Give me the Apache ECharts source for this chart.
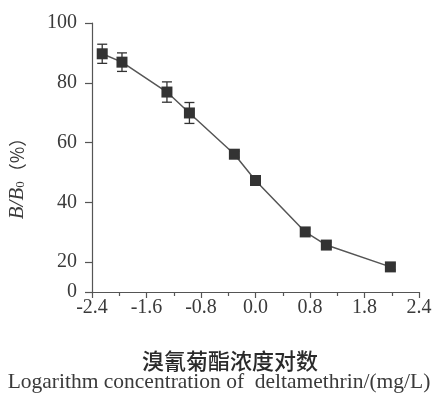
<!DOCTYPE html>
<html>
<head>
<meta charset="utf-8">
<script src="https://cdn.jsdelivr.net/npm/echarts@6/dist/echarts.min.js"></script>
<style>
html,body{margin:0;padding:0;background:#fff;}
#chart{width:438px;height:396px;}
</style>
</head>
<body>
<div id="chart"></div>
<script>
// Data
var xValues = [-2.25, -1.96, -1.30, -0.97, -0.31, 0.0, 0.73, 1.04, 1.98];
var yValues = [89.7, 86.9, 76.9, 69.9, 56.1, 47.3, 30.1, 25.7, 18.4];
var yErrors = [3.2, 3.1, 3.4, 3.5, 1.0, 1.0, 1.0, 1.0, 1.0];
var xTickLabels = ['-2.4', '-1.6', '-0.8', '0.0', '0.8', '1.8', '2.4'];
var yTickValues = [10, 20, 40, 60, 80, 100];
var yTickLabels = ['0', '20', '40', '60', '80', '100'];
var xTitleCn = '溴氰菊酯浓度对数';
var xTitleEn = 'Logarithm concentration of  deltamethrin/(mg/L)';

var pts = xValues.map(function (x, i) { return [x, yValues[i]]; });
var errData = xValues.map(function (x, i) { return [x, yValues[i] - yErrors[i], yValues[i] + yErrors[i]]; });

var serif = '"Liberation Serif", "DejaVu Serif", serif';
var txt = '#3a3a3a';
var axisCol = '#555';

var chart = echarts.init(document.getElementById('chart'));
chart.setOption({
  animation: false,
  backgroundColor: '#fff',
  grid: { left: 92, right: 19, top: 23, bottom: 104 },
  xAxis: {
    type: 'value',
    min: -2.4, max: 2.4, interval: 0.8,
    axisLine: { show: true, onZero: false, lineStyle: { color: axisCol, width: 1.2 } },
    axisTick: { show: true, length: 6, lineStyle: { color: axisCol, width: 1.2 } },
    minorTick: { show: true, splitNumber: 2, length: 4, lineStyle: { color: axisCol, width: 1.2 } },
    splitLine: { show: false },
    axisLabel: {
      margin: 6, color: txt, fontFamily: serif, fontSize: 20,
      formatter: function (v) {
        var idx = Math.round((v + 2.4) / 0.8);
        return xTickLabels[idx] !== undefined ? xTickLabels[idx] : '';
      }
    }
  },
  yAxis: {
    type: 'value',
    min: 10, max: 100,
    axisLine: { show: true, onZero: false, lineStyle: { color: axisCol, width: 1.2 } },
    axisTick: { show: true, length: 7, customValues: yTickValues, lineStyle: { color: axisCol, width: 1.2 } },
    splitLine: { show: false },
    axisLabel: {
      margin: 15, color: txt, fontFamily: serif, fontSize: 20,
      customValues: yTickValues,
      formatter: function (v) {
        var idx = yTickValues.indexOf(v);
        return idx >= 0 ? yTickLabels[idx] : '';
      }
    }
  },
  graphic: [
    {
      type: 'text', x: 17, y: 174, rotation: Math.PI / 2,
      style: {
        text: '{i|B/B}{s|0}{n|（%）}',
        align: 'center', verticalAlign: 'middle',
        rich: {
          i: { fontFamily: serif, fontStyle: 'italic', fontSize: 21, fill: txt, color: txt },
          s: { fontFamily: serif, fontSize: 13, fill: txt, color: txt, padding: [8, 0, 0, 0] },
          n: { fontFamily: '"Noto Sans CJK SC", sans-serif', fontSize: 18, fill: txt, color: txt }
        }
      }
    },
    {
      type: 'text', x: 230, y: 361,
      style: {
        text: xTitleCn, align: 'center', verticalAlign: 'middle',
        font: '500 22px "Noto Sans CJK SC", sans-serif', fill: '#2a2a2a'
      }
    },
    {
      type: 'text', x: 219, y: 382,
      style: {
        text: xTitleEn, align: 'center', verticalAlign: 'middle',
        font: '21.5px "Liberation Serif", serif', fill: txt
      }
    }
  ],
  series: [
    {
      type: 'custom',
      z: 1,
      data: errData,
      renderItem: function (params, api) {
        var x = api.value(0);
        var lo = api.coord([x, api.value(1)]);
        var hi = api.coord([x, api.value(2)]);
        var hw = 5;
        var st = { stroke: '#333', lineWidth: 1.3 };
        return {
          type: 'group',
          children: [
            { type: 'line', shape: { x1: lo[0], y1: lo[1], x2: hi[0], y2: hi[1] }, style: st },
            { type: 'line', shape: { x1: lo[0] - hw, y1: lo[1], x2: lo[0] + hw, y2: lo[1] }, style: st },
            { type: 'line', shape: { x1: hi[0] - hw, y1: hi[1], x2: hi[0] + hw, y2: hi[1] }, style: st }
          ]
        };
      }
    },
    {
      type: 'line',
      z: 3,
      data: pts,
      symbol: 'rect',
      symbolSize: 11,
      lineStyle: { color: '#555', width: 1.5 },
      itemStyle: { color: '#333' }
    }
  ]
});
</script>
</body>
</html>
